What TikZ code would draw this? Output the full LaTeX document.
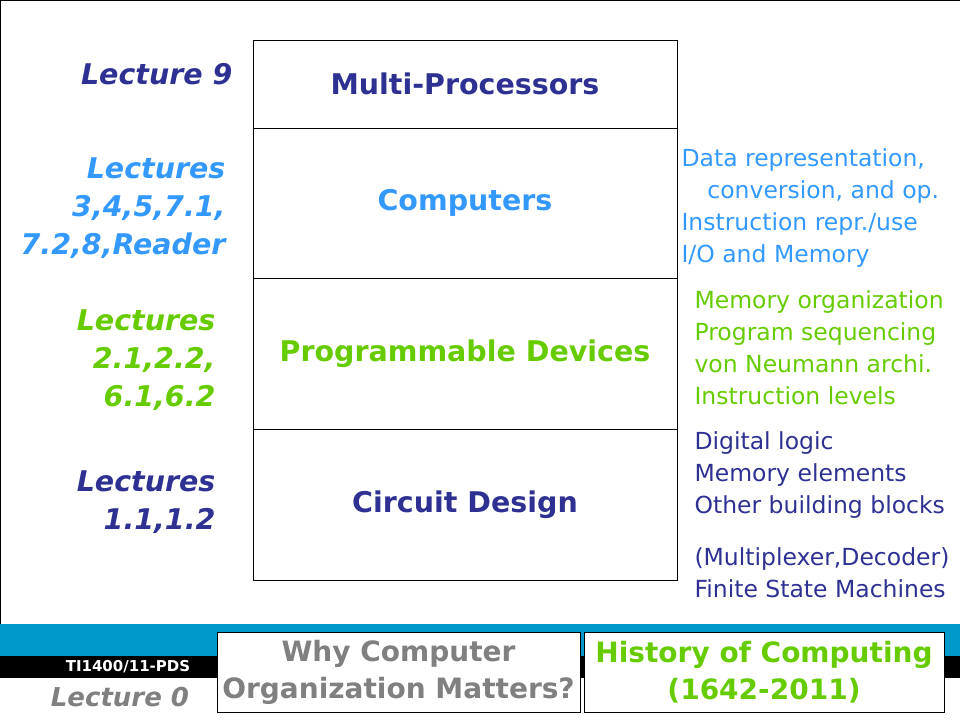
\documentclass[tikz,border=0pt]{standalone}
\usepackage{fontspec}
\setmainfont{DejaVu Sans}
\definecolor{navy}{HTML}{2E3192}
\definecolor{lblue}{HTML}{3399FF}
\definecolor{lgreen}{HTML}{66CC00}
\definecolor{band}{HTML}{0099CC}
\definecolor{gtxt}{HTML}{808080}
\begin{document}
\begin{tikzpicture}[x=1pt,y=-1pt,
  layer/.style={draw,minimum width=424pt,font=\bfseries\fontsize{28.5}{32}\selectfont},
  lec/.style={align=right,font=\bfseries\itshape\fontsize{28.5}{38}\selectfont,anchor=east},
  side/.style={align=left,anchor=north west,font=\fontsize{23.5}{32}\selectfont},
  botbox/.style={draw,fill=white,align=center,font=\bfseries\fontsize{28}{37}\selectfont}]
\useasboundingbox (0,0) rectangle (960,720);
\draw[thin] (0,624) -- (0,0) -- (960,0);
\fill[band] (0,624) rectangle (960,656);
\fill[black] (0,656) rectangle (960,678);
\node[layer,minimum height=88pt,text=navy] (mp) at (465,84) {Multi-Processors};
\node[layer,minimum height=150pt,text=lblue] (cp) at (465,203) {Computers};
\node[layer,minimum height=151pt,text=lgreen] (pd) at (465,353.5) {Programmable Devices};
\node[layer,minimum height=151pt,text=navy] (cd) at (465,504.5) {Circuit Design};
\node[lec,text=navy] (l9) at (236,74) {Lecture 9};
\node[lec,text=lblue] (l3) at (229,208) {Lectures\\3,4,5,7.1,\\7.2,8,Reader};
\node[lec,text=lgreen] (l2) at (219,360) {Lectures\\2.1,2.2,\\\ 6.1,6.2};
\node[lec,text=navy] (l1) at (219,502) {Lectures\\1.1,1.2};
\node[side,text=lblue] (s1) at (678,145) {Data representation,\\\hspace*{1.1em}conversion, and op.\\Instruction repr./use\\I/O and Memory};
\node[side,text=lgreen] (s2) at (691,287) {Memory organization\\Program sequencing\\von Neumann archi.\\Instruction levels};
\node[side,text=navy] (s3) at (691,428) {Digital logic\\Memory elements\\Other building blocks\\[20pt](Multiplexer,Decoder)\\Finite State Machines};
\node[font=\bfseries\fontsize{15}{17}\selectfont,text=white] (ti) at (128,667) {TI1400/11-PDS};
\node[font=\bfseries\itshape\fontsize{26}{30}\selectfont,text=gtxt] (l0) at (120,697) {Lecture 0};
\node[botbox,text=gtxt,minimum width=363pt,minimum height=80pt,inner sep=0pt] (why) at (398.5,672) {Why Computer\\Organization Matters?};
\node[botbox,text=lgreen,minimum width=360pt,minimum height=80pt,inner sep=0pt] (hist) at (764,672) {History of Computing\\(1642-2011)};
\end{tikzpicture}
\end{document}
